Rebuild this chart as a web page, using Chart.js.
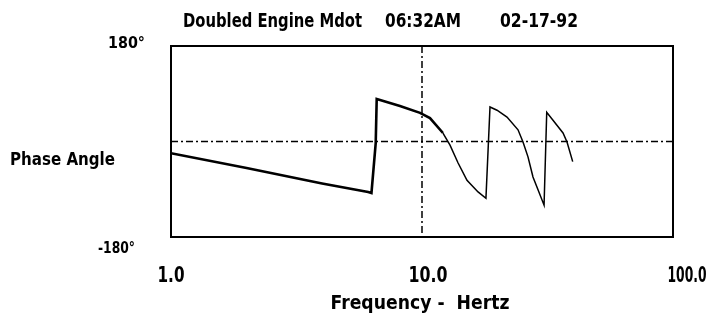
<!DOCTYPE html>
<html>
<head>
<meta charset="utf-8">
<script src="https://cdn.jsdelivr.net/npm/chart.js@4/dist/chart.umd.min.js"></script>
<style>
  html, body { margin: 0; padding: 0; background: #fff; }
  #wrap { width: 717px; height: 320px; }
</style>
</head>
<body>
<div id="wrap"><canvas id="c" width="717" height="320"></canvas></div>
<script>
// Phase response of the doubled engine Mdot transfer function
const titleParts = ['Doubled Engine Mdot', '06:32AM', '02-17-92'];
const yAxisTitle = 'Phase Angle';
const xAxisTitle = 'Frequency -  Hertz';
const xTickValues = [1, 10, 100];
const xTickLabels = ['1.0', '10.0', '100.0'];
const yTickValues = [180, -180];
const yTickLabels = ['180°', '-180°'];

const freqHz = [1.0, 2.0, 4.0, 6.1, 6.29, 6.54, 6.6, 8.17, 9.82, 10.76, 12.12, 12.93, 13.91, 15.11, 16.72, 17.98,
  18.66, 19.9, 21.81, 24.13, 25.26, 26.44, 27.68, 28.99, 30.64,
  31.4, 33.26, 36.46, 37.82, 39.85];
const phaseDeg = [-22, -50, -79, -95, -97, -3, 80, 67, 54, 44, 16, -7, -40, -73, -95, -107,
  65, 59, 46, 22, -1, -29, -67, -91, -120,
  55, 40, 16, -1, -38];

const FONT = 'bold {s}px "DejaVu Sans", sans-serif';

// text helper: fillText with a target width squeezes the glyphs horizontally
function txt(ctx, s, x, y, size, width, align) {
  ctx.font = FONT.replace('{s}', size);
  ctx.textAlign = align || 'left';
  ctx.textBaseline = 'alphabetic';
  ctx.fillText(s, x, y, width);
}

const frame = {
  id: 'frame',
  beforeDatasetsDraw(chart) {
    const { ctx, chartArea: a, scales: { x, y } } = chart;
    ctx.save();
    ctx.strokeStyle = '#000';
    ctx.lineWidth = 1.5;
    ctx.setLineDash([7, 3, 2, 3]);
    const x10 = x.getPixelForValue(10);
    ctx.beginPath();
    ctx.moveTo(x10, a.top);
    ctx.lineTo(x10, a.bottom);
    const y0 = y.getPixelForValue(0);
    ctx.moveTo(a.left, y0);
    ctx.lineTo(a.right, y0);
    ctx.stroke();
    ctx.restore();
  },
  afterDraw(chart) {
    const { ctx, chartArea: a, scales: { x, y } } = chart;
    ctx.save();
    ctx.strokeStyle = '#000';
    ctx.lineWidth = 2;
    ctx.strokeRect(a.left, a.top, a.right - a.left, a.bottom - a.top);

    ctx.fillStyle = '#000';
    // title
    txt(ctx, titleParts[0], 183, 27, 20, 179);
    txt(ctx, titleParts[1], 385, 27, 20, 76);
    txt(ctx, titleParts[2], 500, 27, 20, 78);

    // y tick labels
    txt(ctx, yTickLabels[0], 145, y.getPixelForValue(yTickValues[0]) + 2, 16, 37, 'right');
    txt(ctx, yTickLabels[1], 135, y.getPixelForValue(yTickValues[1]) + 16, 16, 37, 'right');

    // y axis title
    txt(ctx, yAxisTitle, 10, 165, 18, 105);

    // x tick labels
    const xw = [27, 39, 39];
    const dx = [0, 6, 14];
    xTickValues.forEach((v, i) => {
      txt(ctx, xTickLabels[i], x.getPixelForValue(v) + dx[i], 282, 22, xw[i], 'center');
    });

    // x axis title
    txt(ctx, xAxisTitle, (a.left + a.right) / 2 - 2, 309, 19, 179, 'center');
    ctx.restore();
  }
};

new Chart(document.getElementById('c'), {
  type: 'line',
  data: {
    datasets: [{
      data: freqHz.map((f, i) => ({ x: f, y: phaseDeg[i] })),
      borderColor: '#000',
      borderWidth: 2,
      pointRadius: 0,
      tension: 0,
      fill: false,
      segment: {
        borderWidth: c => (c.p0.parsed.x < 11 ? 2.6 : 1.5)
      }
    }]
  },
  options: {
    responsive: false,
    animation: false,
    events: [],
    layout: { padding: { left: 171, right: 44, top: 46, bottom: 83 } },
    plugins: { legend: { display: false }, tooltip: { enabled: false }, title: { display: false } },
    scales: {
      x: { type: 'logarithmic', min: 1, max: 100, display: false },
      y: { type: 'linear', min: -180, max: 180, display: false }
    }
  },
  plugins: [frame]
});
</script>
</body>
</html>
